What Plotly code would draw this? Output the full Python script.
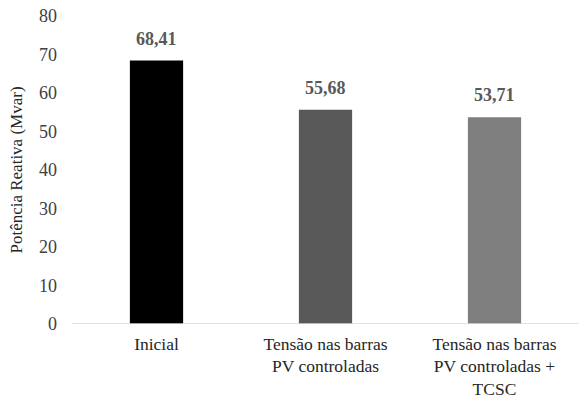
import plotly.graph_objects as go

# Reactive power per scenario
categories = ["Inicial", "Tensão nas barras<br>PV controladas", "Tensão nas barras<br>PV controladas +<br>TCSC"]
values = [68.41, 55.68, 53.71]
bar_colors = ["#000000", "#595959", "#7f7f7f"]
y_ticks = [0, 10, 20, 30, 40, 50, 60, 70, 80]

font_family = "Liberation Serif"

fig = go.Figure(
    go.Bar(
        x=categories,
        y=values,
        marker=dict(color=bar_colors, line=dict(width=0)),
        width=0.315,
        hoverinfo="skip",
    )
)

# Value labels above each bar, decimal comma
for cat, val in zip(categories, values):
    fig.add_annotation(
        x=cat, y=val, text=f"<b>{val:.2f}</b>".replace(".", ","),
        showarrow=False, yanchor="bottom", yshift=10,
        font=dict(family=font_family, size=18, color="#595959"),
    )

fig.update_layout(
    template="none",
    width=580, height=400,
    margin=dict(l=72, r=1, t=16, b=76),
    paper_bgcolor="white", plot_bgcolor="white",
    showlegend=False,
    font=dict(family=font_family, size=18, color="#404040"),
    xaxis=dict(
        showgrid=False, zeroline=False, showline=False, ticks="",
        tickfont=dict(family=font_family, size=17.5, color="#262626"),
        ticklabelstandoff=7,
    ),
    yaxis=dict(
        range=[0, 80], tickvals=y_ticks, showgrid=False, zeroline=False,
        showline=False, ticks="",
        tickfont=dict(family=font_family, size=18, color="#404040"),
        ticklabelstandoff=14,
        title=dict(text="Potência Reativa (Mvar)",
                   font=dict(family=font_family, size=17, color="#262626"), standoff=12),
    ),
)

# Category axis baseline
fig.add_shape(type="line", xref="paper", yref="y", x0=0, x1=1, y0=0, y1=0,
              line=dict(color="#d9d9d9", width=1.5))

fig.write_html("out.html")
